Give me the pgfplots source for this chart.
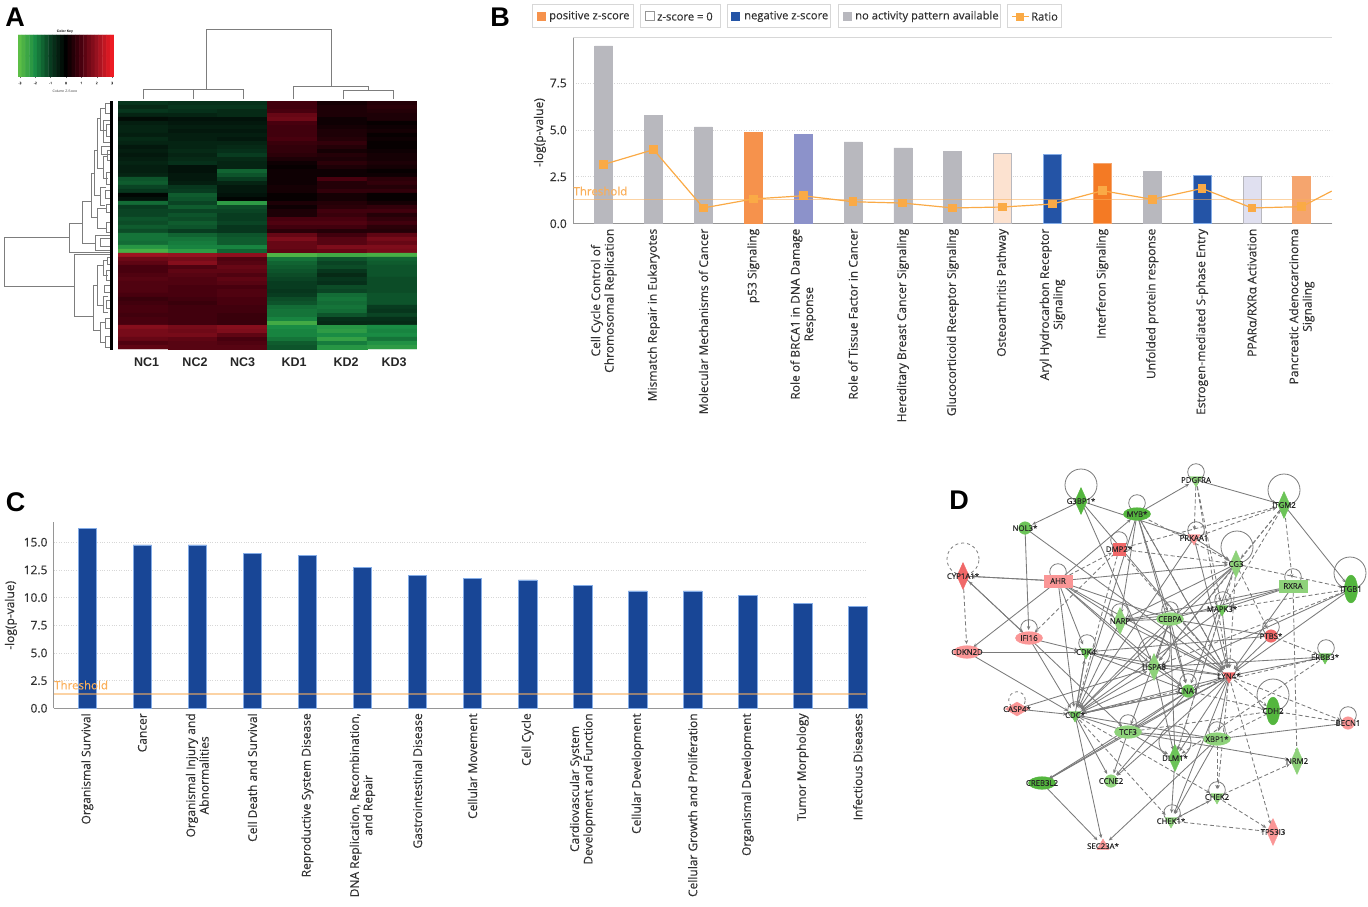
\documentclass[border=0pt]{standalone}
\usepackage{fontspec}
\setmainfont{Open Sans}[FakeBold=0.25]
\newfontfamily\arialf{Liberation Sans}
\usepackage{pgfplots}
\pgfplotsset{compat=1.18}
\usetikzlibrary{arrows.meta}

\definecolor{dendro}{RGB}{125,125,125}
\definecolor{nogrey}{RGB}{184,184,190}
\definecolor{orA}{RGB}{246,146,76}
\definecolor{orB}{RGB}{244,122,36}
\definecolor{orC}{RGB}{245,165,110}
\definecolor{peach}{RGB}{252,226,208}
\definecolor{lavA}{RGB}{140,146,202}
\definecolor{lavB}{RGB}{224,224,240}
\definecolor{blueB}{RGB}{36,84,166}
\definecolor{blueC}{RGB}{24,70,150}
\definecolor{edgeC}{RGB}{132,172,230}
\definecolor{ratio}{RGB}{250,170,70}
\definecolor{thr}{RGB}{250,175,90}
\definecolor{txt}{RGB}{50,50,50}
\definecolor{grd}{RGB}{215,215,215}
\definecolor{ax}{RGB}{150,150,150}
\definecolor{gL}{RGB}{142,210,122}
\definecolor{gM}{RGB}{108,196,88}
\definecolor{gD}{RGB}{84,182,62}
\definecolor{pL}{RGB}{250,150,150}
\definecolor{pD}{RGB}{240,104,104}
\definecolor{nline}{RGB}{122,122,122}

\pgfplotsset{
  colormap={gkr}{rgb255=(92,190,70) rgb255=(26,140,68) rgb255=(8,60,32) rgb255=(0,0,0) rgb255=(72,0,14) rgb255=(150,18,32) rgb255=(237,28,36)},
  hm/.style={matrix plot*,shader=faceted,faceted color=mapped color,line width=.4pt,point meta=explicit},
  bar/.style={ybar,bar width=18pt,bar shift=0pt,line width=.6pt},
  ipa/.style={
    scale only axis,axis lines=left,axis line style={-,draw=ax,line width=1pt},
    ymin=0,major tick length=0pt,
    ymajorgrids,grid style={dotted,draw=grd,line width=.8pt},
    xtick={0,...,14},xticklabel shift=1.5pt,yticklabel shift=3pt,
    xticklabel style={rotate=90,anchor=east,align=center,text=txt,font=\fontsize{12}{13.5}\selectfont},
    yticklabel style={text=txt,font=\fontsize{12}{13}\selectfont,/pgf/number format/fixed,/pgf/number format/fixed zerofill,/pgf/number format/precision=1,/pgf/number format/assume math mode=true},
    ylabel={-log(p-value)},ylabel style={text=txt,font=\fontsize{12}{13}\selectfont,anchor=center},
    clip=false,
  },
  edgeS/.style={draw=nline,line width=.85pt,shorten >=8pt,-{Stealth[length=4pt,width=3.5pt]}},
  edgeD/.style={draw=nline,line width=.85pt,dash pattern=on 4pt off 2.5pt,shorten >=8pt,-{Stealth[length=4pt,width=3.5pt]}},
  nd/.style={only marks,point meta=explicit symbolic,nodes near coords,
    nodes near coords style={anchor=center,inner sep=0pt,text=black!85,font=\fontsize{7.8}{8}\selectfont}},
  dia/.style={mark=diamond*,mark size=13.5pt,mark options={xscale=.6}},
  ell/.style={mark=*,mark size=6.3pt,mark options={xscale=2.15}},
  tall/.style={mark=*,mark size=6.5pt,mark options={yscale=2.15}},
  box/.style={mark=square*,mark size=6.3pt,mark options={xscale=2.2}},
  tri/.style={mark=triangle*,mark size=7pt,mark options={rotate=180}},
  cir/.style={mark=*,mark size=6.3pt},
}

% network node positions, in picture pixels
\newcommand\pos[3]{\expandafter\def\csname n#1\endcsname{#2,#3}}
\pos{G3BP}{1081}{501}\pos{MYB}{1137}{514}\pos{PDGF}{1196}{480}\pos{GM2}{1284}{505}
\pos{NOL}{1025}{528}\pos{DMP}{1119}{549}\pos{PRK}{1194}{538}\pos{CG3}{1236}{564}
\pos{CYP}{963}{576}\pos{AHR}{1058}{581}\pos{RXRA}{1293}{586}\pos{ITG}{1351}{589}
\pos{MAPK}{1222}{609}\pos{ARP}{1120}{621}\pos{CEBPA}{1170}{619}\pos{PTBS}{1271}{636}
\pos{IFI}{1029}{638}\pos{CDK}{1086}{652}\pos{CDKN}{967}{652}\pos{ERBB}{1325}{657}
\pos{HSP}{1154}{667}\pos{LYN}{1229}{676}\pos{CNA}{1188}{691}\pos{CDH}{1273}{711}
\pos{BECN}{1348}{723}\pos{CASP}{1017}{709}\pos{CD}{1075}{715}\pos{TCF}{1128}{732}
\pos{XBP}{1217}{739}\pos{DLM}{1175}{758}\pos{NRM}{1297}{761}\pos{CREB}{1042}{783}
\pos{CCNE}{1111}{781}\pos{CHKB}{1217}{797}\pos{CHKA}{1171}{821}\pos{TP}{1273}{832}
\pos{SEC}{1103}{846}
\newcommand\E[2]{\edef\tmp{\noexpand\addplot[edgeS] coordinates {(\csname n#1\endcsname) (\csname n#2\endcsname)};}\tmp}
\newcommand\D[2]{\edef\tmp{\noexpand\addplot[edgeD] coordinates {(\csname n#1\endcsname) (\csname n#2\endcsname)};}\tmp}
\newcommand\Nd[3]{\edef\tmp{\noexpand\addplot[nd,#1] coordinates {(\csname n#2\endcsname) [#3]};}\tmp}
\newcommand\panel[3]{\node[font=\arialf\bfseries\fontsize{27}{27}\selectfont,inner sep=0pt] at (axis cs:#2,#3) {#1};}
\newcommand\colname[2]{\node[font=\arialf\bfseries\fontsize{12.5}{13}\selectfont,text=black!85,inner sep=0pt] at (axis cs:#2,361.7) {#1};}
\newcommand\lgd[4]{\draw[draw=grd,line width=1pt] (axis cs:#1,4.5) rectangle (axis cs:#2,27.5);
  \node[anchor=west,inner sep=0pt,text=txt,font=\fontsize{11.2}{13}\selectfont] at (axis cs:#3,16.5) {#4};}

\begin{document}
\begin{tikzpicture}
\path[use as bounding box] (0,0) rectangle (1368pt,906pt);

% canvas axis: data units are picture pixels, y downwards
\begin{axis}[at={(0pt,0pt)},anchor=south west,scale only axis,width=1368pt,height=906pt,
  xmin=0,xmax=1368,ymin=0,ymax=906,y dir=reverse,axis lines=none,clip=false,unbounded coords=jump]

% top dendrogram
\addplot[draw=dendro,line width=.9pt] coordinates {
 (206,89)(206,29)(331,29)(331,86) (nan,nan)
 (143,99)(143,89)(193,89)(193,99) (nan,nan)
 (168,89)(243,89)(243,99) (nan,nan)
 (293,99)(293,86)(368,86)(368,90) (nan,nan)
 (343,99)(343,90)(393,90)(393,99)};

% row dendrogram
\addplot[draw=dendro,line width=.9pt] coordinates {
 (69,237)(4.3,237)(4.3,286)(74,286) (nan,nan)
 (110,252)(69,252)(69,223)(82,223) (nan,nan)
 (95,243)(82,243)(82,201)(91,201) (nan,nan)
 (94,173)(91,173)(91,217)(97,217) (nan,nan)
 (110,235)(95,235)(95,250)(110,250) (nan,nan)
 (106,208)(97,208)(97,228)(106,228) (nan,nan)
 (97,150)(94,150)(94,195)(100,195) (nan,nan)
 (100,118)(97,118)(97,168)(103,168) (nan,nan)
 (105,108)(100,108)(100,130)(106,130) (nan,nan)
 (108,156)(103,156)(103,178)(108,178) (nan,nan)
 (106,187)(100,187)(100,205)(105,205) (nan,nan)
 (110,103)(105,103)(105,113)(110,113) (nan,nan)
 (110,124)(106,124)(106,136)(110,136) (nan,nan)
 (110,120)(103,120)(103,142)(110,142) (nan,nan)
 (110,150)(107,150)(107,160)(110,160) (nan,nan)
 (110,146)(101,146)(101,154)(110,154) (nan,nan)
 (112,172)(106,172)(106,184)(112,184) (nan,nan)
 (112,190)(105,190)(105,198)(112,198) (nan,nan)
 (112,204)(106,204)(106,212)(112,212) (nan,nan)
 (112,222)(106,222)(106,232)(112,232) (nan,nan)
 (112,238)(100,238)(100,246)(112,246) (nan,nan)
 (110,254)(74,254)(74,316)(93,316) (nan,nan)
 (97,285)(93,285)(93,330)(100,330) (nan,nan)
 (103,265)(97,265)(97,305)(103,305) (nan,nan)
 (105,322)(100,322)(100,342)(105,342) (nan,nan)
 (108,260)(103,260)(103,275)(108,275) (nan,nan)
 (108,296)(103,296)(103,312)(108,312) (nan,nan)
 (111,318)(105,318)(105,328)(111,328) (nan,nan)
 (111,336)(105,336)(105,347)(111,347) (nan,nan)
 (112,257)(107,257)(107,264)(112,264) (nan,nan)
 (112,270)(106,270)(106,280)(112,280) (nan,nan)
 (112,285)(104,285)(104,292)(112,292) (nan,nan)
 (112,300)(106,300)(106,308)(112,308)};
\addplot[draw=black,line width=3pt] coordinates {(111.5,101)(111.5,350)};

% network: self loops
\addplot[only marks,mark=o,mark size=8.3pt,draw=nline,mark options={draw=nline,line width=.8pt,fill=none}] coordinates {
 (1137,503)(1196,472)(1196,530)(1119,540)(1058,572)(1293,577)(1223,600)(1170,610)(1271,627)
 (1029,628)(1087,643)(1326,648)(1229,667)(1188,682)(1076,710)(1128,723)(1217,730)(1348,715)
 (1217,790)(1172,813)(1120,612)};
\addplot[only marks,mark=o,mark size=16pt,draw=nline,mark options={draw=nline,line width=.8pt,fill=none}] coordinates {
 (1081,485)(1284,490)(1237,547)(1350,573)(1175,742)(1273,695)(1154,652)};
\addplot[only marks,mark=o,mark size=16pt,draw=nline,mark options={draw=nline,line width=.8pt,dashed,fill=none}] coordinates {(963,559)};
\addplot[only marks,mark=o,mark size=8.3pt,draw=nline,mark options={draw=nline,line width=.8pt,dashed,fill=none}] coordinates {(1017,700)};

% network: solid edges
\E{G3BP}{NOL}\E{G3BP}{PRK}\E{G3BP}{HSP}\E{G3BP}{LYN}\E{NOL}{IFI}\E{NOL}{LYN}\E{MYB}{PDGF}
\E{PDGF}{GM2}\E{GM2}{ITG}\E{AHR}{MYB}\E{MYB}{CD}\E{MYB}{ARP}\E{MYB}{CNA}\E{MYB}{CEBPA}\E{MYB}{LYN}
\E{PRK}{CG3}\E{PRK}{LYN}\E{PRK}{CD}\E{CYP}{AHR}\E{AHR}{CYP}\E{CYP}{IFI}\E{IFI}{CYP}\E{AHR}{CG3}\E{AHR}{CDKN}
\E{AHR}{CDK}\E{AHR}{CD}\E{AHR}{HSP}\E{AHR}{LYN}\E{AHR}{CNA}\E{AHR}{ARP}\E{AHR}{CEBPA}\E{IFI}{CDK}\E{IFI}{CD}
\E{IFI}{TCF}\E{CDKN}{CDK}\E{CDKN}{CD}\E{CASP}{CD}\E{CASP}{HSP}\E{CD}{HSP}\E{CD}{CNA}\E{CNA}{CD}\E{CD}{LYN}
\E{CD}{CDK}\E{CD}{TCF}\E{CD}{CCNE}\E{CD}{SEC}\E{CD}{XBP}\E{CG3}{CEBPA}\E{CG3}{ARP}\E{CG3}{CD}\E{CG3}{CNA}
\E{RXRA}{CEBPA}\E{RXRA}{MAPK}\E{RXRA}{LYN}\E{RXRA}{ARP}\E{ITG}{CD}\E{ITG}{LYN}\E{PTBS}{CEBPA}\E{PTBS}{CDK}\E{PTBS}{LYN}
\E{ARP}{CEBPA}\E{ARP}{LYN}\E{ARP}{CD}\E{CEBPA}{HSP}\E{CEBPA}{CNA}\E{CEBPA}{LYN}\E{CEBPA}{CD}\E{CEBPA}{TCF}
\E{CEBPA}{DLM}\E{CDK}{LYN}\E{CDK}{HSP}\E{CDK}{CD}\E{CDK}{CNA}\E{HSP}{LYN}\E{HSP}{CNA}\E{HSP}{DLM}\E{LYN}{CNA}\E{LYN}{TCF}
\E{LYN}{XBP}\E{LYN}{DLM}\E{LYN}{CCNE}\E{LYN}{CREB}\E{LYN}{CHKA}\E{CNA}{TCF}\E{CNA}{CREB}\E{CNA}{CCNE}
\E{TCF}{XBP}\E{TCF}{DLM}\E{TCF}{CREB}\E{TCF}{CCNE}\E{TCF}{NRM}\E{XBP}{BECN}\E{XBP}{SEC}\E{XBP}{CHKA}\E{CREB}{SEC}
\E{ERBB}{LYN}\E{ERBB}{HSP}\E{CG3}{HSP}\E{MAPK}{CD}\E{MAPK}{ARP}\E{MAPK}{LYN}\E{DLM}{CHKA}

% network: dashed edges
\D{CYP}{CDKN}\D{DMP}{CG3}\D{DMP}{LYN}\D{DMP}{GM2}\D{DMP}{CD}\D{PRK}{GM2}\D{MYB}{CG3}\D{MYB}{LYN}
\D{PDGF}{LYN}\D{PDGF}{PRK}\D{PDGF}{MAPK}\D{GM2}{MAPK}\D{GM2}{CG3}\D{GM2}{RXRA}\D{GM2}{HSP}\D{CG3}{ITG}\D{ITG}{MAPK}\D{CG3}{LYN}
\D{CG3}{PTBS}\D{CG3}{DLM}\D{PTBS}{ERBB}\D{LYN}{BECN}\D{LYN}{CDH}\D{CDH}{BECN}\D{CDH}{XBP}\D{CDH}{TCF}
\D{LYN}{TP}\D{LYN}{CHKB}\D{CD}{CHKB}\D{CD}{CHKA}\D{CHKB}{NRM}\D{CHKB}{TP}\D{CHKA}{TP}\D{CHKA}{CHKB}\D{CHKB}{CHKA}
\D{XBP}{CHKB}\D{ERBB}{CD}\D{RXRA}{NRM}\D{DMP}{IFI}\D{CNA}{CDH}\D{ITG}{HSP}\D{MAPK}{DLM}\D{ERBB}{DLM}\D{AHR}{DMP}

% network: nodes
\Nd{dia,color=gD}{G3BP}{G3BP1*}
\Nd{ell,color=gD}{MYB}{MYB*}
\Nd{tri,color=gL}{PDGF}{PDGFRA}
\Nd{dia,color=gM}{GM2}{ITGM2}
\Nd{cir,color=gM}{NOL}{NOL3*}
\Nd{cir,mark=square*,color=pD}{DMP}{DMP2*}
\Nd{tri,color=pL}{PRK}{PRKAA1}
\Nd{dia,color=gL}{CG3}{CG3}
\Nd{dia,color=pD}{CYP}{CYP1A1*}
\Nd{box,color=pL}{AHR}{AHR}
\Nd{box,color=gL}{RXRA}{RXRA}
\Nd{tall,color=gD}{ITG}{ITGB1}
\Nd{tri,color=gM}{MAPK}{MAPK3*}
\Nd{dia,color=gL}{ARP}{NARP}
\Nd{ell,color=gL}{CEBPA}{CEBPA}
\Nd{cir,color=pD}{PTBS}{PTBS*}
\Nd{ell,color=pL}{IFI}{IFI16}
\Nd{tri,color=gM}{CDK}{CDK4}
\Nd{ell,color=pL}{CDKN}{CDKN2D}
\Nd{tri,color=gM}{ERBB}{ERBB3*}
\Nd{dia,color=gL}{HSP}{HSPA8}
\Nd{tri,color=pD}{LYN}{LYN4*}
\Nd{cir,color=gM}{CNA}{CNA1}
\Nd{tall,color=gD}{CDH}{CDH2}
\Nd{cir,color=pL}{BECN}{BECN1}
\Nd{ell,mark=diamond*,mark size=7pt,mark options={xscale=2.2},color=pL}{CASP}{CASP4*}
\Nd{tri,color=gM}{CD}{CDC*}
\Nd{ell,color=gL}{TCF}{TCF3}
\Nd{ell,color=gL}{XBP}{XBP1*}
\Nd{dia,color=gM}{DLM}{DLM1*}
\Nd{dia,color=gL}{NRM}{NRM2}
\Nd{ell,color=gD}{CREB}{CREB3L2}
\Nd{cir,color=gL}{CCNE}{CCNE2}
\Nd{tri,color=gL}{CHKB}{CHEK2}
\Nd{tri,color=gL}{CHKA}{CHEK1*}
\Nd{dia,color=pL}{TP}{TP53I3}
\Nd{tri,mark options={rotate=0},color=pL}{SEC}{SEC23A*}

% panel letters and captions
\panel{A}{15}{17.5}\panel{B}{500}{17}\panel{C}{15.5}{502.5}\panel{D}{959}{500.5}
\colname{NC1}{146.7}\colname{NC2}{195}\colname{NC3}{242.7}\colname{KD1}{294}\colname{KD2}{346}\colname{KD3}{394}
\node[font=\arialf\bfseries\fontsize{3.4}{4}\selectfont,inner sep=0pt] at (axis cs:65,31.5) {Color Key};
\node[font=\arialf\fontsize{3.4}{4}\selectfont,text=black!75,inner sep=0pt] at (axis cs:65,91.5) {Column Z-Score};

% legend of panel B
\lgd{532.7}{633.3}{549}{positive z-score}
\lgd{640.7}{720}{657}{z-score = 0}
\lgd{727}{830.7}{744}{negative z-score}
\lgd{838.3}{1000}{855}{no activity pattern available}
\lgd{1007.7}{1061.7}{1031}{Ratio}
\fill[orA] (axis cs:537,11.5) rectangle (axis cs:546,20.5);
\draw[draw=ax,fill=white,line width=.5pt] (axis cs:645,11.5) rectangle (axis cs:654,20.5);
\fill[blueB] (axis cs:731,11.5) rectangle (axis cs:740,20.5);
\fill[nogrey] (axis cs:843,11.5) rectangle (axis cs:852,20.5);
\draw[draw=ratio,line width=1.2pt] (axis cs:1012,16.5) -- (axis cs:1029,16.5);
\fill[ratio] (axis cs:1016,12.5) rectangle (axis cs:1024,20.5);
\end{axis}

% colour key
\begin{axis}[at={(18pt,829pt)},anchor=south west,scale only axis,width=96pt,height=42pt,
  xmin=-3.125,xmax=3.125,ymin=-.5,ymax=1.5,colormap name=gkr,point meta min=-3,point meta max=3,
  axis line style={draw=none},axis x line=bottom,axis y line=none,xtick={-3,...,3},
  tick style={draw=black!60,line width=.3pt},major tick length=2.5pt,
  xticklabel style={font=\fontsize{3.4}{4}\selectfont,text=black!75,/pgf/number format/assume math mode=true}]
\addplot[hm,mesh/cols=25] coordinates {
 (-3,0)[-3](-2.75,0)[-2.75](-2.5,0)[-2.5](-2.25,0)[-2.25](-2,0)[-2](-1.75,0)[-1.75](-1.5,0)[-1.5](-1.25,0)[-1.25](-1,0)[-1](-.75,0)[-.75](-.5,0)[-.5](-.25,0)[-.25](0,0)[0](.25,0)[.25](.5,0)[.5](.75,0)[.75](1,0)[1](1.25,0)[1.25](1.5,0)[1.5](1.75,0)[1.75](2,0)[2](2.25,0)[2.25](2.5,0)[2.5](2.75,0)[2.75](3,0)[3]
 (-3,1)[-3](-2.75,1)[-2.75](-2.5,1)[-2.5](-2.25,1)[-2.25](-2,1)[-2](-1.75,1)[-1.75](-1.5,1)[-1.5](-1.25,1)[-1.25](-1,1)[-1](-.75,1)[-.75](-.5,1)[-.5](-.25,1)[-.25](0,1)[0](.25,1)[.25](.5,1)[.5](.75,1)[.75](1,1)[1](1.25,1)[1.25](1.5,1)[1.5](1.75,1)[1.75](2,1)[2](2.25,1)[2.25](2.5,1)[2.5](2.75,1)[2.75](3,1)[3]
};
\end{axis}

% heat map
\begin{axis}[at={(118pt,557pt)},anchor=south west,scale only axis,width=299pt,height=248pt,
  xmin=-.5,xmax=5.5,ymin=-.5,ymax=61.5,y dir=reverse,axis lines=none,
  colormap name=gkr,point meta min=-3,point meta max=3]
\addplot[hm,mesh/cols=6] coordinates {
(0,0)[-.9](1,0)[-.8](2,0)[-.8](3,0)[.9](4,0)[.3](5,0)[.5]
(0,1)[-.7](1,1)[-.9](2,1)[-.9](3,1)[.9](4,1)[.4](5,1)[.6]
(0,2)[-.9](1,2)[-.8](2,2)[-.7](3,2)[1](4,2)[.4](5,2)[.5]
(0,3)[-.6](1,3)[-.6](2,3)[-.7](3,3)[1.4](4,3)[.4](5,3)[.4]
(0,4)[-.2](1,4)[-.3](2,4)[-.3](3,4)[1.5](4,4)[.2](5,4)[.4]
(0,5)[-.5](1,5)[-.4](2,5)[-.4](3,5)[1](4,5)[.2](5,5)[.1]
(0,6)[-.6](1,6)[-.5](2,6)[-.5](3,6)[.9](4,6)[.3](5,6)[.2]
(0,7)[-.6](1,7)[-.4](2,7)[-.4](3,7)[.9](4,7)[.4](5,7)[.3]
(0,8)[-.5](1,8)[-.5](2,8)[-.5](3,8)[.9](4,8)[.4](5,8)[.1]
(0,9)[-.7](1,9)[-.5](2,9)[-.4](3,9)[1](4,9)[.5](5,9)[.2]
(0,10)[-.6](1,10)[-.6](2,10)[-.6](3,10)[.8](4,10)[.7](5,10)[.1]
(0,11)[-.4](1,11)[-.6](2,11)[-.7](3,11)[.7](4,11)[.5](5,11)[.1]
(0,12)[-.5](1,12)[-.7](2,12)[-.8](3,12)[.7](4,12)[.3](5,12)[.2]
(0,13)[-.4](1,13)[-.6](2,13)[-1](3,13)[.6](4,13)[.5](5,13)[.3]
(0,14)[-.5](1,14)[-.7](2,14)[-.7](3,14)[.4](4,14)[.4](5,14)[.3]
(0,15)[-.6](1,15)[-.8](2,15)[-.6](3,15)[.2](4,15)[.6](5,15)[.4]
(0,16)[-.5](1,16)[-.3](2,16)[-.6](3,16)[.1](4,16)[.4](5,16)[.3]
(0,17)[-.5](1,17)[-.3](2,17)[-1.5](3,17)[.2](4,17)[.2](5,17)[.1]
(0,18)[-.6](1,18)[-.4](2,18)[-1.3](3,18)[.2](4,18)[.2](5,18)[.2]
(0,19)[-1.3](1,19)[-.4](2,19)[-1](3,19)[.2](4,19)[1](5,19)[.6]
(0,20)[-1.4](1,20)[-.5](2,20)[-.6](3,20)[.2](4,20)[.5](5,20)[.7]
(0,21)[-1.1](1,21)[-.9](2,21)[-.4](3,21)[.3](4,21)[.5](5,21)[.5]
(0,22)[-.9](1,22)[-1](2,22)[-.4](3,22)[.3](4,22)[.7](5,22)[.7]
(0,23)[-.1](1,23)[-1.4](2,23)[-.3](3,23)[.1](4,23)[.3](5,23)[.1]
(0,24)[-.3](1,24)[-1.3](2,24)[-.1](3,24)[.1](4,24)[.3](5,24)[.1]
(0,25)[-1.6](1,25)[-1.1](2,25)[-2.3](3,25)[.4](4,25)[.5](5,25)[.3]
(0,26)[-1](1,26)[-1.4](2,26)[-1.2](3,26)[.2](4,26)[.6](5,26)[.7]
(0,27)[-1.1](1,27)[-1.1](2,27)[-1.1](3,27)[.4](4,27)[.9](5,27)[.9]
(0,28)[-1.1](1,28)[-1.3](2,28)[-1](3,28)[.4](4,28)[.8](5,28)[.5]
(0,29)[-1.3](1,29)[-1.2](2,29)[-1](3,29)[1](4,29)[1](5,29)[.7]
(0,30)[-1.2](1,30)[-1.4](2,30)[-1.1](3,30)[1.1](4,30)[1.1](5,30)[.9]
(0,31)[-1.4](1,31)[-1.3](2,31)[-.9](3,31)[.9](4,31)[.9](5,31)[.6]
(0,32)[-1.2](1,32)[-1](2,32)[-.9](3,32)[.6](4,32)[.5](5,32)[.5]
(0,33)[-1.7](1,33)[-1.5](2,33)[-1.3](3,33)[1.4](4,33)[.9](5,33)[1.3]
(0,34)[-1.7](1,34)[-1.7](2,34)[-1.4](3,34)[1.7](4,34)[1.2](5,34)[1.6]
(0,35)[-1.6](1,35)[-1.8](2,35)[-1.4](3,35)[1.4](4,35)[1.2](5,35)[1.4]
(0,36)[-2.2](1,36)[-1.9](2,36)[-1.9](3,36)[1.4](4,36)[1.7](5,36)[1.7]
(0,37)[-2.7](1,37)[-2.3](2,37)[-1.5](3,37)[1.3](4,37)[1.4](5,37)[1.6]
(0,38)[2.1](1,38)[2](2,38)[1.9](3,38)[-2.8](4,38)[-2.6](5,38)[-2.7]
(0,39)[1.5](1,39)[1.6](2,39)[1.1](3,39)[-1.7](4,39)[-1.3](5,39)[-1.5]
(0,40)[1.3](1,40)[1.8](2,40)[1.2](3,40)[-1.5](4,40)[-1.1](5,40)[-1.4]
(0,41)[1](1,41)[1.1](2,41)[1.4](3,41)[-1.4](4,41)[-1.2](5,41)[-1.3]
(0,42)[1](1,42)[1.3](2,42)[1.3](3,42)[-1.3](4,42)[-.9](5,42)[-1.3]
(0,43)[1.1](1,43)[1.2](2,43)[1.1](3,43)[-1.2](4,43)[-.7](5,43)[-1.3]
(0,44)[1.2](1,44)[1.1](2,44)[1.3](3,44)[-1.1](4,44)[-.9](5,44)[-1.2]
(0,45)[1.1](1,45)[1.1](2,45)[1.2](3,45)[-1](4,45)[-.8](5,45)[-1.2]
(0,46)[1.1](1,46)[1](2,46)[1](3,46)[-1](4,46)[-1.2](5,46)[-1.2]
(0,47)[1.1](1,47)[1](2,47)[1.1](3,47)[-.9](4,47)[-1.1](5,47)[-1.2]
(0,48)[1](1,48)[1](2,48)[1.1](3,48)[-1](4,48)[-1.6](5,48)[-1.3]
(0,49)[.8](1,49)[.9](2,49)[1](3,49)[-1.2](4,49)[-1.7](5,49)[-1.3]
(0,50)[.9](1,50)[.8](2,50)[1](3,50)[-1.3](4,50)[-1.6](5,50)[-1.3]
(0,51)[1](1,51)[.9](2,51)[.9](3,51)[-1.6](4,51)[-1.7](5,51)[-1]
(0,52)[1](1,52)[.9](2,52)[.9](3,52)[-1.7](4,52)[-1.6](5,52)[-.9]
(0,53)[.9](1,53)[.9](2,53)[.8](3,53)[-1.7](4,53)[-1.3](5,53)[-1.1]
(0,54)[1](1,54)[.9](2,54)[.8](3,54)[-1.9](4,54)[-.8](5,54)[-.8]
(0,55)[1](1,55)[.9](2,55)[.8](3,55)[-2.6](4,55)[-.7](5,55)[-.7]
(0,56)[1.8](1,56)[1.6](2,56)[1.8](3,56)[-2](4,56)[-2.2](5,56)[-2]
(0,57)[1.6](1,57)[1.5](2,57)[1.7](3,57)[-1.9](4,57)[-2.3](5,57)[-1.9]
(0,58)[1.6](1,58)[1.6](2,58)[1.3](3,58)[-1.9](4,58)[-2](5,58)[-2]
(0,59)[1.4](1,59)[1.3](2,59)[1](3,59)[-1.7](4,59)[-2.4](5,59)[-1.7]
(0,60)[1.1](1,60)[1.2](2,60)[1.1](3,60)[-1.4](4,60)[-1.8](5,60)[-2.1]
(0,61)[1.3](1,61)[1.2](2,61)[1.2](3,61)[-1.3](4,61)[-2.2](5,61)[-2.3]
};
\end{axis}

% panel B
\begin{axis}[ipa,at={(573.3pt,682.3pt)},anchor=south west,width=758.4pt,height=186pt,
  xmin=-.61,xmax=14.6,ymax=9.92,ytick={0,2.5,5,7.5},
  ylabel style={at={(axis description cs:-.044,.49)}},
  xticklabels={{Cell Cycle Control of\\Chromosomal Replication},{Mismatch Repair in Eukaryotes},{Molecular Mechanisms of Cancer},{p53 Signaling},{Role of BRCA1 in DNA Damage\\Response},{Role of Tissue Factor in Cancer},{Hereditary Breast Cancer Signaling},{Glucocorticoid Receptor Signaling},{Osteoarthritis Pathway},{Aryl Hydrocarbon Receptor\\Signaling},{Interferon Signaling},{Unfolded protein response},{Estrogen-mediated S-phase Entry},{PPARα/RXRα Activation},{Pancreatic Adenocarcinoma\\Signaling}}]
\draw[draw=grd,line width=1.6pt] (rel axis cs:0,1) -- (rel axis cs:1,1);
\addplot[bar,fill=nogrey,draw=nogrey] coordinates {(0,9.48)(1,5.76)(2,5.16)(5,4.36)(6,4.04)(7,3.84)(11,2.77)};
\addplot[bar,fill=orA,draw=orA] coordinates {(3,4.87)};
\addplot[bar,fill=lavA,draw=lavA] coordinates {(4,4.75)};
\addplot[bar,fill=peach,draw=nogrey] coordinates {(8,3.77)};
\addplot[bar,fill=blueB,draw=edgeC] coordinates {(9,3.68)(12,2.56)};
\addplot[bar,fill=orB,draw=orC] coordinates {(10,3.22)};
\addplot[bar,fill=lavB,draw=nogrey] coordinates {(13,2.54)};
\addplot[bar,fill=orC,draw=orC] coordinates {(14,2.51)};
\addplot[draw=thr,opacity=.55,line width=1.3pt] coordinates {(-.61,1.3)(14.6,1.3)};
\addplot[draw=ratio,line width=1.2pt,mark=square*,mark size=3.8pt,mark options={fill=ratio,draw=ratio}] coordinates {
 (0,3.16)(1,3.95)(2,.84)(3,1.32)(4,1.49)(5,1.17)(6,1.10)(7,.84)(8,.89)(9,1.05)(10,1.76)(11,1.30)(12,1.88)(13,.84)(14,.91)};
\addplot[draw=ratio,line width=1.2pt] coordinates {(14,.91)(14.6,1.74)};
\node[anchor=west,inner sep=0pt,text=thr,font=\fontsize{11.5}{13}\selectfont] at (axis cs:-.61,1.74) {Threshold};
\end{axis}

% panel C
\begin{axis}[ipa,at={(54pt,197.7pt)},anchor=south west,width=812pt,height=186pt,
  xmin=-.605,xmax=14.15,ymax=16.8,ytick={0,2.5,5,7.5,10,12.5,15},
  ylabel style={at={(axis description cs:-.053,.5)}},
  xticklabels={{Organismal Survival},{Cancer},{Organismal Injury and\\Abnormalities},{Cell Death and Survival},{Reproductive System Disease},{DNA Replication, Recombination,\\and Repair},{Gastrointestinal Disease},{Cellular Movement},{Cell Cycle},{Cardiovascular System\\Development and Function},{Cellular Development},{Cellular Growth and Proliferation},{Organismal Development},{Tumor Morphology},{Infectious Diseases}}]
\addplot[bar,bar width=18.5pt,fill=blueC,draw=edgeC] coordinates {
 (0,16.26)(1,14.75)(2,14.75)(3,13.97)(4,13.79)(5,12.74)(6,12.04)(7,11.7)(8,11.6)(9,11.1)(10,10.6)(11,10.6)(12,10.2)(13,9.45)(14,9.2)};
\addplot[draw=thr,opacity=.55,line width=1.3pt] coordinates {(-.605,1.3)(14.15,1.3)};
\node[anchor=west,inner sep=0pt,text=thr,font=\fontsize{11.5}{13}\selectfont] at (axis cs:-.605,2.1) {Threshold};
\end{axis}
\end{tikzpicture}
\end{document}
